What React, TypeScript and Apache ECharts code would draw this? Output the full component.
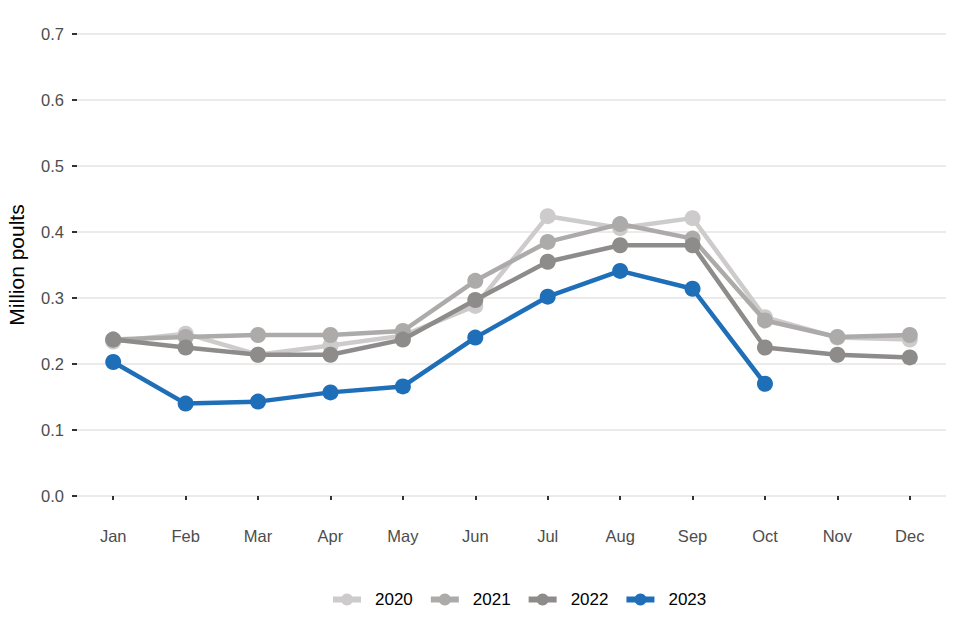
import React, { useEffect, useRef } from "react";
import * as echarts from "echarts";

const months = ["Jan", "Feb", "Mar", "Apr", "May", "Jun", "Jul", "Aug", "Sep", "Oct", "Nov", "Dec"];
const yearNames = ["2020", "2021", "2022", "2023"];
const y2020 = [0.234, 0.246, 0.214, 0.228, 0.243, 0.288, 0.424, 0.406, 0.421, 0.271, 0.240, 0.237];
const y2021 = [0.237, 0.241, 0.244, 0.244, 0.250, 0.326, 0.385, 0.412, 0.390, 0.266, 0.241, 0.244];
const y2022 = [0.237, 0.225, 0.214, 0.214, 0.237, 0.297, 0.355, 0.380, 0.380, 0.225, 0.214, 0.210];
const y2023 = [0.203, 0.140, 0.143, 0.157, 0.166, 0.240, 0.302, 0.341, 0.314, 0.170];
const yTicks = [0, 0.1, 0.2, 0.3, 0.4, 0.5, 0.6, 0.7];

const colors = ["#cdcbcb", "#adaaaa", "#8e8b8b", "#1f6fb8"];
const seriesData = [y2020, y2021, y2022, y2023];

export default function App() {
  const ref = useRef<HTMLDivElement>(null);
  useEffect(() => {
    if (!ref.current) return;
    const chart = echarts.init(ref.current, null, { renderer: "svg" });
    const font = "Liberation Sans, Arial, sans-serif";
    chart.setOption({
      animation: false,
      backgroundColor: "#ffffff",
      grid: { left: 77, right: 14, top: 34, bottom: 144, containLabel: false, outerBoundsMode: "none" },
      legend: {
        data: yearNames,
        left: 330,
        top: 591,
        padding: 0,
        itemWidth: 28,
        itemHeight: 15,
        itemGap: 15,
        lineStyle: { width: 6 },
        textStyle: { fontFamily: font, fontSize: 17, color: "#000000", padding: [0, 0, 0, 9] },
      },
      xAxis: {
        type: "category",
        data: months,
        boundaryGap: true,
        offset: 24,
        axisLine: { show: false },
        axisTick: { show: true, length: 4, alignWithLabel: true, lineStyle: { color: "#333333", width: 2 } },
        axisLabel: { fontFamily: font, fontSize: 16.5, color: "#4d4d4d", margin: 7 },
        splitLine: { show: false },
      },
      yAxis: {
        type: "value",
        min: yTicks[0],
        max: yTicks[yTicks.length - 1],
        interval: 0.1,
        name: "Million poults",
        nameLocation: "middle",
        nameRotate: 90,
        nameGap: 50,
        nameTextStyle: { fontFamily: font, fontSize: 21, color: "#000000" },
        axisLine: { show: false },
        axisTick: { show: true, length: 5, lineStyle: { color: "#333333", width: 2 } },
        axisLabel: {
          fontFamily: font,
          fontSize: 16.5,
          color: "#4d4d4d",
          margin: 13,
          formatter: (v: number) => v.toFixed(1),
        },
        splitLine: { show: true, lineStyle: { color: "#ebebeb", width: 2 } },
      },
      series: yearNames.map((name, i) => ({
        name,
        type: "line",
        data: seriesData[i],
        symbol: "circle",
        symbolSize: 16,
        showSymbol: true,
        lineStyle: { color: colors[i], width: 4.5 },
        itemStyle: { color: colors[i] },
        z: 2 + i,
      })),
    });
    return () => chart.dispose();
  }, []);
  return (
    <div
      ref={ref}
      style={{ position: "fixed", left: 0, top: 0, width: 960, height: 640, background: "#ffffff" }}
    />
  );
}
